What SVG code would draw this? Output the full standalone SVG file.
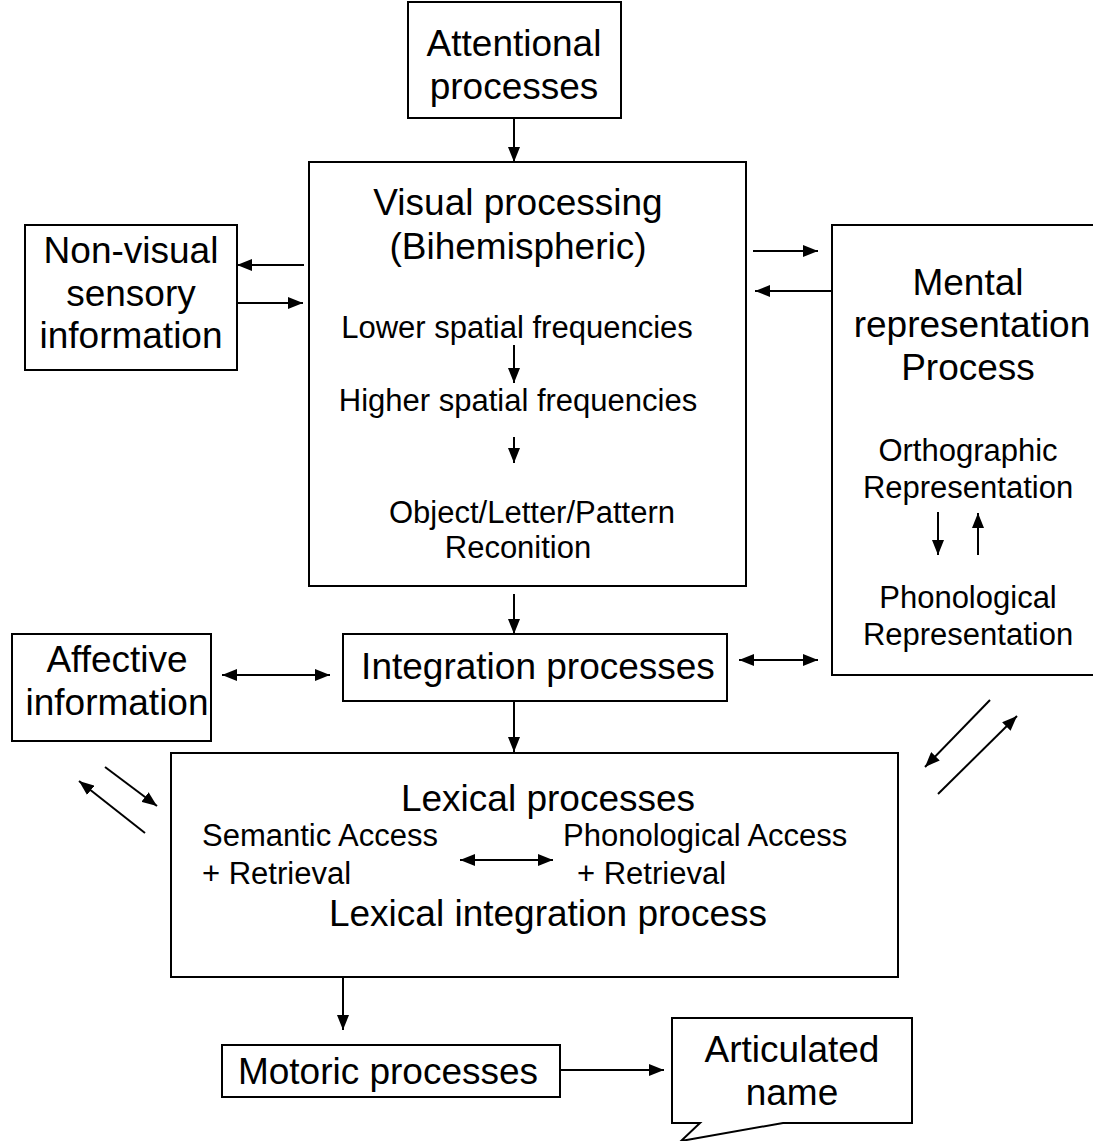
<svg xmlns="http://www.w3.org/2000/svg" width="1093" height="1141" viewBox="0 0 1093 1141">
  <style>
    .box { fill: #fff; stroke: #000; stroke-width: 2; }
    .big { font-family: "Liberation Sans", Arial, sans-serif; font-size: 37px; fill: #000; text-anchor: middle; }
    .small { font-family: "Liberation Sans", Arial, sans-serif; font-size: 31px; fill: #000; text-anchor: middle; }
    .left { text-anchor: start; }
    .conn line { stroke: #000; stroke-width: 2; fill: none; }
  </style>
  <defs>
    <marker id="head" markerUnits="userSpaceOnUse" markerWidth="16" markerHeight="12" refX="15" refY="6" orient="auto-start-reverse">
      <path d="M0,0 L15,6 L0,12 Z" fill="#000"/>
    </marker>
  </defs>
  <rect width="1093" height="1141" fill="#fff"/>

  <g id="attentional">
    <rect class="box" x="408" y="2" width="213" height="116"/>
    <text class="big" x="514" y="56">Attentional</text>
    <text class="big" x="514" y="99">processes</text>
  </g>

  <g id="visual">
    <rect class="box" x="309" y="162" width="437" height="424"/>
    <text class="big" x="518" y="215">Visual processing</text>
    <text class="big" x="518" y="259">(Bihemispheric)</text>
    <text class="small" x="517" y="338">Lower spatial frequencies</text>
    <text class="small" x="518" y="411">Higher spatial frequencies</text>
    <text class="small" x="532" y="523">Object/Letter/Pattern</text>
    <text class="small" x="518" y="558">Reconition</text>
  </g>

  <g id="nonvisual">
    <rect class="box" x="25" y="225" width="212" height="145"/>
    <text class="big" x="131" y="263">Non-visual</text>
    <text class="big" x="131" y="306">sensory</text>
    <text class="big" x="131" y="348">information</text>
  </g>

  <g id="mental">
    <rect class="box" x="832" y="225" width="270" height="450"/>
    <text class="big" x="968" y="295">Mental</text>
    <text class="big" x="972" y="337">representation</text>
    <text class="big" x="968" y="380">Process</text>
    <text class="small" x="968" y="461">Orthographic</text>
    <text class="small" x="968" y="498">Representation</text>
    <text class="small" x="968" y="608">Phonological</text>
    <text class="small" x="968" y="645">Representation</text>
  </g>

  <g id="integration">
    <rect class="box" x="343" y="634" width="384" height="67"/>
    <text class="big" x="538" y="679">Integration processes</text>
  </g>

  <g id="affective">
    <rect class="box" x="12" y="634" width="199" height="107"/>
    <text class="big" x="117" y="672">Affective</text>
    <text class="big" x="117" y="715">information</text>
  </g>

  <g id="lexical">
    <rect class="box" x="171" y="753" width="727" height="224"/>
    <text class="big" x="548" y="811">Lexical processes</text>
    <text class="small left" x="202" y="846">Semantic Access</text>
    <text class="small left" x="202" y="884">+ Retrieval</text>
    <text class="small left" x="563" y="846">Phonological Access</text>
    <text class="small left" x="577" y="884">+ Retrieval</text>
    <text class="big" x="548" y="926">Lexical integration process</text>
  </g>

  <g id="motoric">
    <rect class="box" x="222" y="1045" width="338" height="52"/>
    <text class="big" x="388" y="1084">Motoric processes</text>
  </g>

  <g id="articulated">
    <path class="box" d="M672,1018 H912 V1123 H783 L681,1141 L700,1123 H672 Z"/>
    <text class="big" x="792" y="1062">Articulated</text>
    <text class="big" x="792" y="1105">name</text>
  </g>

  <g class="conn" id="connectors">
    <line x1="514" y1="118" x2="514" y2="162" marker-end="url(#head)"/>
    <line x1="514" y1="345" x2="514" y2="383" marker-end="url(#head)"/>
    <line x1="514" y1="437" x2="514" y2="463" marker-end="url(#head)"/>
    <line x1="304" y1="265" x2="237" y2="265" marker-end="url(#head)"/>
    <line x1="237" y1="303" x2="303" y2="303" marker-end="url(#head)"/>
    <line x1="753" y1="251" x2="818" y2="251" marker-end="url(#head)"/>
    <line x1="832" y1="291" x2="755" y2="291" marker-end="url(#head)"/>
    <line x1="938" y1="512" x2="938" y2="555" marker-end="url(#head)"/>
    <line x1="978" y1="555" x2="978" y2="513" marker-end="url(#head)"/>
    <line x1="514" y1="594" x2="514" y2="634" marker-end="url(#head)"/>
    <line x1="222" y1="675" x2="330" y2="675" marker-start="url(#head)" marker-end="url(#head)"/>
    <line x1="739" y1="660" x2="818" y2="660" marker-start="url(#head)" marker-end="url(#head)"/>
    <line x1="514" y1="701" x2="514" y2="752" marker-end="url(#head)"/>
    <line x1="460" y1="860" x2="553" y2="860" marker-start="url(#head)" marker-end="url(#head)"/>
    <line x1="105" y1="767" x2="157" y2="806" marker-end="url(#head)"/>
    <line x1="145" y1="833" x2="79" y2="781" marker-end="url(#head)"/>
    <line x1="990" y1="700" x2="925" y2="767" marker-end="url(#head)"/>
    <line x1="938" y1="794" x2="1017" y2="716" marker-end="url(#head)"/>
    <line x1="343" y1="977" x2="343" y2="1030" marker-end="url(#head)"/>
    <line x1="560" y1="1070" x2="664" y2="1070" marker-end="url(#head)"/>
  </g>
</svg>
